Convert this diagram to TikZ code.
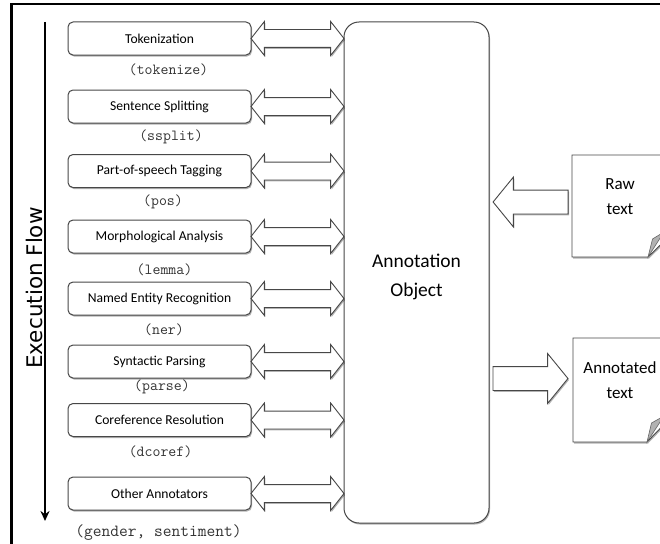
\documentclass[tikz,border=0pt]{standalone}
\usepackage{fontspec}
\setmainfont{Carlito}
\newfontfamily\flowfont{DejaVu Sans}
\usetikzlibrary{shapes.arrows,calc,shadows,arrows.meta}
\begin{document}
\begin{tikzpicture}[x=1pt,y=-1pt,
  softshadow/.style={drop shadow={shadow xshift=1pt,shadow yshift=-1.5pt,opacity=0.3,fill=black}},
  stagebox/.style={draw=black!72,line width=1pt,rounded corners=5pt,fill=white,
    minimum width=183pt,minimum height=33pt,inner sep=0pt,
    font=\fontsize{13.6}{15}\selectfont,softshadow},
  codelabel/.style={font=\ttfamily\fontsize{15.4}{17}\selectfont,text=black!80,inner sep=0pt},
  dblarrow/.style={double arrow,draw=black!72,line width=0.9pt,fill=white,
    minimum height=93pt,inner sep=8.5pt,double arrow head extend=8pt,
    double arrow tip angle=103.6,softshadow},
  bigarrow/.style={single arrow,draw=black!72,line width=0.9pt,fill=white,
    minimum height=75pt,inner sep=11.5pt,single arrow head extend=13pt,
    single arrow tip angle=101.6,softshadow},
  docshape/.style={draw=black!72,line width=0.9pt,fill=white,softshadow},
  doctext/.style={font=\fontsize{17}{25}\selectfont,align=center,inner sep=0pt}
]
\useasboundingbox (0,0) rectangle (660,543);
\clip (0,0) rectangle (660,543);
% frame
\draw[line width=2.4pt] (11.5,545) -- (11.5,4) -- (662,4);
% execution flow
\coordinate (flowtop) at (45,22);
\coordinate (flowbot) at (45,521);
\draw[line width=1.8pt,-{Stealth[length=10pt,width=9pt]}] (flowtop) -- (flowbot);
\node[rotate=90,font=\flowfont\fontsize{21.5}{24}\selectfont,inner sep=0pt] (flowlabel) at (34,288) {Execution Flow};
% annotation object
\node[draw=black!72,line width=1pt,rounded corners=15pt,fill=white,minimum width=145pt,
  minimum height=501pt,inner sep=0pt,softshadow] (ann) at (416.5,272.5) {};
\node[font=\fontsize{19.5}{29}\selectfont,align=center,inner sep=0pt] (anntext) at (416.5,277) {Annotation\\Object};
% stages
\foreach \nm/\y/\txt/\cx/\ly/\code in {
  tok/38.5/Tokenization/168.5/70/(tokenize),
  ssp/106.5/Sentence Splitting/171/137/(ssplit),
  pos/171/Part-of-speech Tagging/163/202/(pos),
  lem/236.5/Morphological Analysis/164.5/270/(lemma),
  ner/298.5/Named Entity Recognition/164/330/(ner),
  par/361.5/Syntactic Parsing/162/387/(parse),
  dco/420/Coreference Resolution/160.5/452/(dcoref)}{
  \node[stagebox] (\nm) at (159.5,\y) {\txt};
  \node[codelabel] (\nm code) at (\cx,\ly) {\code};
  \node[dblarrow] (\nm arrow) at ($(\nm.east)!0.5!(\nm.east -| ann.west)$) {};
}
\node[stagebox] (oth) at (159.5,493.5) {Other Annotators};
\node[codelabel,font=\ttfamily\fontsize{17}{19}\selectfont] (othcode) at (158.5,533) {(gender, sentiment)};
\node[dblarrow] (otharrow) at ($(oth.east)!0.5!(oth.east -| ann.west)$) {};
% raw text document
\draw[docshape] (572,155) -- (680,155) -- (680,226) -- (648,257) -- (572,257) -- cycle;
\fill[black!30,draw=black!60,line width=0.6pt] (648,257) -- (652.5,239) -- (664,232) -- cycle;
\node[doctext] (raw) at (620,196.5) {Raw\\text};
% annotated text document
\draw[docshape] (573,338) -- (680,338) -- (680,408) -- (647,442) -- (573,442) -- cycle;
\fill[black!30,draw=black!60,line width=0.6pt] (647,442) -- (651.5,423) -- (664,416) -- cycle;
\node[doctext] (annot) at (620,380) {Annotated\\text};
% block arrows
\coordinate (inrow) at (0,202);
\coordinate (outrow) at (0,378.5);
\node[bigarrow,shape border rotate=180,anchor=tip,xshift=3pt] (inarrow) at (ann.east |- inrow) {};
\node[bigarrow,anchor=tail,xshift=3pt] (outarrow) at (ann.east |- outrow) {};
\end{tikzpicture}
\end{document}
